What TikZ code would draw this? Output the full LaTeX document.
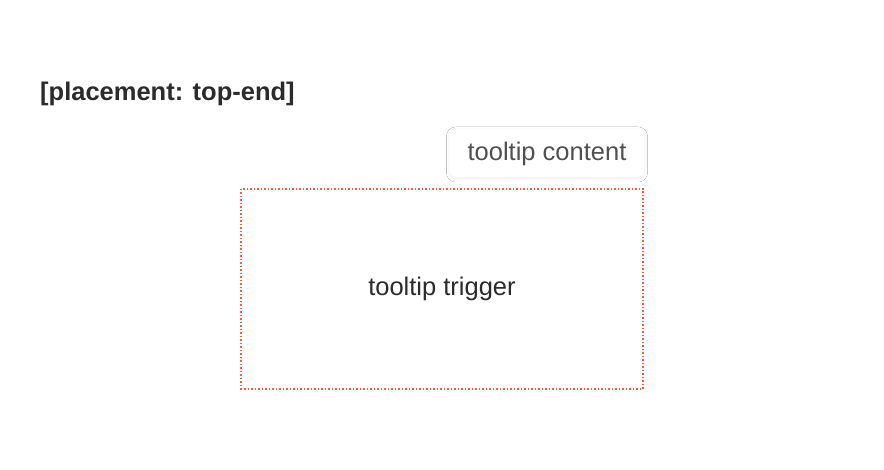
\documentclass[tikz,border=0pt]{standalone}
\usepackage{fontspec}
\setmainfont{Liberation Sans}
\usetikzlibrary{shadows.blur}
\definecolor{dotred}{HTML}{F2603F}
\definecolor{txtdark}{HTML}{2B2B2B}
\definecolor{txtgrey}{HTML}{505050}
\begin{document}
\begin{tikzpicture}[x=1pt,y=1pt,
  trigbox/.style={draw=dotred, line width=1.5pt, dash pattern=on 1.5pt off 2pt},
  tipbox/.style={fill=white, rounded corners=6pt, blur shadow={shadow xshift=0pt, shadow yshift=-1.5pt, shadow blur radius=3.5pt, shadow blur steps=8, shadow opacity=7}},
  lbl/.style={font=\fontsize{25.5}{30}\selectfont, inner sep=0pt}]
\useasboundingbox[fill=white] (0,0) rectangle (884,470);
\node[anchor=base west, inner sep=0pt, text=txtdark, font=\fontsize{25.5}{30}\selectfont\bfseries] (title) at (40,369) {[placement: top-end]};
\draw[trigbox] (241,281) rectangle (643,81);
\node[lbl, text=txtdark, anchor=base] (trigtext) at (442,174) {tooltip trigger};
\path[tipbox] (450,341) rectangle (644,293);
\node[lbl, text=txtgrey, anchor=base] (tiptext) at (547,309) {tooltip content};
\end{tikzpicture}
\end{document}
